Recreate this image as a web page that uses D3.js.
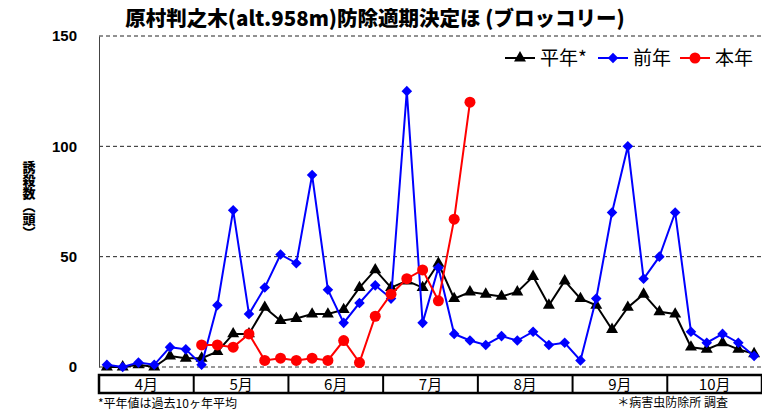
<!DOCTYPE html>
<html>
<head>
<meta charset="utf-8">
<script src="https://cdn.jsdelivr.net/npm/d3@7"></script>
<style>
  body { margin: 0; background: #fff; }
  svg { display: block; font-family: "Noto Sans CJK JP", sans-serif; }
</style>
</head>
<body>
<svg id="chart" width="762" height="411"></svg>
<script>
// month labels (6 half-month periods each)
const months = ['4月', '5月', '6月', '7月', '8月', '9月', '10月'];
const yTicks = [0, 50, 100, 150];

// 平年* (10-year average)
const heinen = [0, 0, 1, 0, 5, 4, 4, 7, 15, 15, 27, 21, 22, 24, 24, 26, 36, 44, 36, 39,
  36, 47, 31, 34, 33, 32, 34, 41, 28, 39, 31, 28, 17, 27, 33, 25, 24, 9, 8, 11, 8, 6];
// 前年
const zennen = [1, 0, 2, 1, 9, 8, 1, 28, 71, 24, 36, 51, 47, 87, 35, 20, 29, 37, 31, 125,
  20, 45, 15, 12, 10, 14, 12, 16, 10, 11, 3, 31, 70, 100, 40, 50, 70, 16, 11, 15, 11, 5];
// 本年 (so far)
const honnen = [null, null, null, null, null, null, 10, 10, 9, 15, 3, 4, 3, 4, 3, 12, 2, 23,
  33, 40, 44, 30, 67, 120];

const svg = d3.select("#chart");
const plotL = 99, plotR = 762, plotT = 36, plotB = 367;

const periods = d3.range(months.length * 6);
const x = d3.scaleBand().domain(periods).range([plotL, plotR]);
const xm = d3.scaleBand().domain(months).range([plotL, plotR]);
const y = d3.scaleLinear().domain([0, 150]).range([plotB, plotT]);
const cx = i => x(i) + x.bandwidth() / 2;

// title
svg.append("text")
  .attr("x", 375).attr("y", 26)
  .attr("text-anchor", "middle")
  .attr("font-size", 20.5).attr("font-weight", 900)
  .text("原村判之木(alt.958m)防除適期決定ほ (ブロッコリー)");

// gridlines (dashed)
svg.append("g").selectAll("line")
  .data(yTicks)
  .join("line")
  .attr("x1", plotL).attr("x2", plotR)
  .attr("y1", d => y(d)).attr("y2", d => y(d))
  .attr("stroke", d => d === 0 ? "#777" : "#222")
  .attr("stroke-width", d => d === 0 ? 1.5 : 1)
  .attr("stroke-dasharray", "4,3");

// y axis
const yAxis = svg.append("g")
  .attr("transform", `translate(${plotL},0)`)
  .call(d3.axisLeft(y).tickValues(yTicks).tickSize(0).tickPadding(22));
yAxis.select(".domain").attr("stroke", "#444");
yAxis.selectAll("text")
  .attr("font-family", "'Liberation Sans', Arial, sans-serif")
  .attr("font-size", 15).attr("font-weight", "bold").attr("fill", "#000");

// y label, vertical writing
svg.append("text")
  .attr("x", 29).attr("y", 161)
  .attr("font-size", 13).attr("font-weight", 900)
  .style("writing-mode", "vertical-rl")
  .text("誘殺数（頭）");

// month row
const mrow = svg.append("g");
mrow.append("rect")
  .attr("x", plotL).attr("y", 375)
  .attr("width", plotR - plotL).attr("height", 18)
  .attr("fill", "none").attr("stroke", "#000").attr("stroke-width", 2.5);
mrow.selectAll("line")
  .data(months.slice(1))
  .join("line")
  .attr("x1", d => xm(d)).attr("x2", d => xm(d))
  .attr("y1", 375).attr("y2", 393)
  .attr("stroke", "#000").attr("stroke-width", 2);
mrow.selectAll("text")
  .data(months)
  .join("text")
  .attr("x", d => xm(d) + xm.bandwidth() / 2)
  .attr("y", 389.5)
  .attr("text-anchor", "middle")
  .attr("font-size", 15)
  .text(d => d);

// footnotes
svg.append("text")
  .attr("x", 98).attr("y", 408)
  .attr("font-size", 12)
  .text("*平年値は過去10ヶ年平均");
svg.append("text")
  .attr("x", 728).attr("y", 407)
  .attr("text-anchor", "end")
  .attr("font-size", 12)
  .text("＊病害虫防除所 調査");

// series
const series = [
  { name: "平年*", values: heinen, color: "#000", shape: d3.symbolTriangle, size: 62, rot: 0 },
  { name: "前年", values: zennen, color: "#0000ff", shape: d3.symbolSquare, size: 56, rot: 45 },
  { name: "本年", values: honnen, color: "#ff0000", shape: d3.symbolCircle, size: 95, rot: 0 }
];

const line = d3.line()
  .defined(d => d != null)
  .x((d, i) => cx(i))
  .y(d => y(d));

series.forEach(s => {
  const g = svg.append("g");
  g.append("path")
    .datum(s.values)
    .attr("d", line)
    .attr("fill", "none")
    .attr("stroke", s.color)
    .attr("stroke-width", 2);
  g.selectAll("path.pt")
    .data(s.values.map((v, i) => ({ v, i })).filter(d => d.v != null))
    .join("path")
    .attr("class", "pt")
    .attr("transform", d => `translate(${cx(d.i)},${y(d.v)}) rotate(${s.rot})`)
    .attr("d", d3.symbol(s.shape, s.size))
    .attr("fill", s.color);
});

// legend
const legendX = [505, 598, 680];
const lg = svg.append("g");
series.forEach((s, i) => {
  const g = lg.append("g").attr("transform", `translate(${legendX[i]},58)`);
  g.append("line").attr("x1", 0).attr("x2", 30)
    .attr("stroke", s.color).attr("stroke-width", 2);
  g.append("path").attr("transform", `translate(15,0) rotate(${s.rot})`)
    .attr("d", d3.symbol(s.shape, s.size)).attr("fill", s.color);
  g.append("text").attr("x", 35).attr("y", 7)
    .attr("font-size", 19)
    .text(s.name);
});
</script>
</body>
</html>
